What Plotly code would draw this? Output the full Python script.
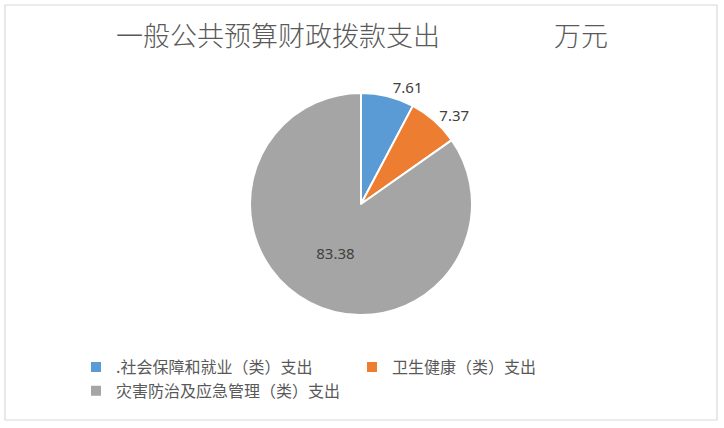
import plotly.graph_objects as go

categories = [".社会保障和就业（类）支出", "卫生健康（类）支出", "灾害防治及应急管理（类）支出"]
values = [7.61, 7.37, 83.38]
colors = ["#5B9BD5", "#ED7D31", "#A5A5A5"]
label_positions = ["outside", "outside", "inside"]

W, H = 724, 428
cx, cy, r = 361, 204, 111

fig = go.Figure(go.Pie(
    labels=categories,
    values=values,
    text=[f"{v:.2f}" for v in values],
    textinfo="text",
    textposition=label_positions,
    insidetextorientation="horizontal",
    textfont=dict(family="Noto Sans, DejaVu Sans", size=15, color="#404040"),
    outsidetextfont=dict(family="Noto Sans, DejaVu Sans", size=15, color="#404040"),
    insidetextfont=dict(family="Noto Sans, DejaVu Sans", size=15, color="#404040"),
    marker=dict(colors=colors, line=dict(color="white", width=2)),
    sort=False,
    direction="clockwise",
    rotation=0,
    hole=0,
    domain=dict(x=[(cx - r) / W, (cx + r) / W], y=[(H - cy - r) / H, (H - cy + r) / H]),
    hoverinfo="label+value",
))

fig.update_layout(
    width=W, height=H,
    margin=dict(l=0, r=0, t=0, b=0),
    paper_bgcolor="white",
    plot_bgcolor="white",
    title=dict(
        text="一般公共预算财政拨款支出" + "\u3000" * 4 + "\u00a0" + "万元",
        x=0.5, xanchor="center", y=1 - 37 / H, yanchor="middle",
        font=dict(family="Noto Sans CJK SC", size=27, color="#595959", weight=300),
    ),
    showlegend=True,
    legend=dict(
        orientation="h",
        x=76 / W, xanchor="left",
        y=1 - 350 / H, yanchor="top",
        entrywidth=231, entrywidthmode="pixels",
        font=dict(family="Noto Sans CJK SC", size=16, color="#595959"),
        bgcolor="rgba(0,0,0,0)",
        traceorder="normal",
    ),
    shapes=[dict(
        type="rect", xref="paper", yref="paper",
        x0=5 / W, x1=717 / W, y0=1 - 420 / H, y1=1 - 5 / H,
        line=dict(color="#D9D9D9", width=1.2), fillcolor="rgba(0,0,0,0)", layer="below",
    )],
)

fig.write_html(
    "out.html",
    config={"displayModeBar": False},
    post_script="document.body.style.margin='0';document.body.style.overflow='hidden';",
)
